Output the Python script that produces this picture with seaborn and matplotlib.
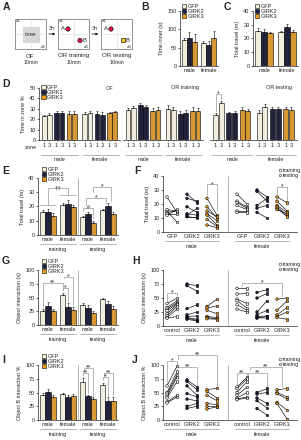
import matplotlib
matplotlib.use('Agg')
import matplotlib.pyplot as plt
import seaborn as sns
import pandas as pd
import numpy as np
from matplotlib.patches import Rectangle, Circle, Patch
from matplotlib.lines import Line2D

# ---------------- data ----------------
groups = ['GFP', 'GIRK2', 'GIRK3']
sexes = ['male', 'female']

# B: time in inner zone (s); rows male, female; cols GFP, GIRK2, GIRK3
inner_time = [[70, 77, 66], [62, 57, 77]]
inner_sem = [[6, 15, 20], [7, 10, 18]]

# C: total travel in OF (m)
of_travel = [[25.5, 25, 24], [24.5, 28.5, 24.5]]
of_travel_sem = [[2, 2, 1], [1, 2, 1.5]]

# D: time in zone % as (zone 1, zone 3) per sex / group
zone_of = [[[23, 24], [25.5, 25.5], [25, 25]], [[25, 25.5], [25, 24.5], [25.5, 26.5]]]
zone_of_sem = [[[1.5, 2], [2.5, 2.5], [2.5, 3]], [[2, 2.5], [2.5, 2.5], [1.5, 1.5]]]
zone_training = [[[28.5, 30.5], [33.5, 32], [27.5, 28.5]], [[29.5, 29], [25, 26], [27.5, 27.5]]]
zone_training_sem = [[[2, 2], [2, 2], [3, 3]], [[4, 3], [3, 3], [4, 3]]]
zone_testing = [[[24, 36], [25.5, 26], [28.5, 27.5]], [[26, 32], [29.5, 29.5], [29.5, 29]]]
zone_testing_sem = [[[2, 1.5], [1.5, 1.5], [3, 2.5]], [[3, 3], [2, 2], [2, 3]]]

# E: total travel (m) in OR sessions
travel_training = [[16, 16, 13.5], [21, 21.5, 19.5]]
travel_training_sem = [[1.5, 2, 2], [1.5, 3, 1.5]]
travel_testing = [[12.5, 14.5, 8.5], [17.5, 20.5, 14.5]]
travel_testing_sem = [[1, 1.5, 1.5], [1, 2, 1.5]]

# G: object interaction (s)
inter_training = [[26, 34, 26], [54, 32, 28]]
inter_training_sem = [[3, 8, 3], [5, 8, 5]]
inter_testing = [[37, 31, 21], [47, 39, 30]]
inter_testing_sem = [[3, 6, 4], [3, 5, 5]]

# I: object B interaction %
objb_training = [[46, 51, 42], [47, 42, 44]]
objb_training_sem = [[3, 6, 4], [2, 3, 3]]
objb_testing = [[70, 43, 38], [63, 35, 34]]
objb_testing_sem = [[6, 3, 3], [5, 6, 8]]

# F: individual total travel (m), training vs testing
f_train_male = [[25, 15, 14, 13, 12, 16], [27, 24, 18, 13, 11, 11, 12], [24, 18, 13, 12, 9, 5, 15]]
f_test_male = [[14, 7, 15, 13, 16, 15], [21, 22, 14, 12, 10, 11, 17], [12, 10, 8, 5, 4, 3, 11]]
f_train_female = [[27, 22, 21, 19, 15, 14], [30, 29, 19, 17, 14], [25, 22, 19, 18, 17, 16]]
f_test_female = [[20, 18, 17, 16, 15, 14], [25, 22, 24, 19, 10], [21, 15, 14, 12, 11, 13]]

# H: individual object interaction (s)
h_train_male = [[40, 33, 30, 27, 22, 18, 15, 14], [75, 72, 31, 20, 17, 15, 14, 12], [35, 32, 28, 17, 15, 13]]
h_test_male = [[50, 45, 42, 40, 38, 35, 30, 17], [72, 62, 38, 25, 18, 12, 10, 9], [48, 36, 22, 15, 13, 12]]
h_train_female = [[67, 57, 48, 45, 38, 30], [60, 50, 25, 20, 17, 14, 15], [48, 28, 20, 17, 15]]
h_test_female = [[67, 58, 40, 32, 28, 25], [65, 58, 45, 28, 18, 17, 14], [50, 45, 33, 25, 12]]

# J: individual object B interaction %
j_train_male = [[62, 50, 47, 43, 40, 33, 31], [73, 70, 62, 48, 38, 25, 21], [55, 52, 45, 30, 25, 20]]
j_test_male = [[98, 88, 82, 78, 70, 45, 42], [60, 55, 45, 42, 35, 30, 25], [58, 40, 35, 28, 25, 24]]
j_train_female = [[60, 57, 50, 45, 40, 38, 37], [50, 47, 40, 35, 21], [55, 50, 48, 32, 30]]
j_test_female = [[78, 75, 70, 60, 50, 42, 40], [57, 50, 30, 22, 9], [57, 42, 38, 18, 2]]

# ---------------- style ----------------
FS = 4.0
sns.set_style('ticks')
plt.rcParams['font.family'] = ['Liberation Sans', 'DejaVu Sans']
plt.rcParams.update({
    'font.size': FS, 'axes.linewidth': 0.5, 'axes.labelsize': FS,
    'xtick.labelsize': FS, 'ytick.labelsize': FS,
    'xtick.major.width': 0.5, 'ytick.major.width': 0.5,
    'xtick.major.size': 1.5, 'ytick.major.size': 1.5,
    'xtick.major.pad': 1, 'ytick.major.pad': 1, 'axes.labelpad': 2,
})
colors = {'GFP': '#f4f1da', 'GIRK2': '#1c2040', 'GIRK3': '#f29d17'}
pcolors = {'GFP': '#ffffff', 'GIRK2': '#1c2040', 'GIRK3': '#f29d17'}
GRAY = '0.6'

W, H = 301, 440
fig = plt.figure(figsize=(W / 100, H / 100), dpi=100)


def px_axes(x0, y0, x1, y1):
    return fig.add_axes([x0 / W, 1 - y1 / H, (x1 - x0) / W, (y1 - y0) / H])


def letter(x, y, s):
    fig.text(x / W, 1 - y / H, s, fontsize=7.5, fontweight='bold', va='top', ha='left')


def bar_legend(ax, anchor):
    handles = [Patch(facecolor=colors[g], edgecolor='k', linewidth=0.4, label=g) for g in groups]
    ax.legend(handles=handles, loc='upper left', bbox_to_anchor=anchor, frameon=False,
              handlelength=0.75, handleheight=0.75, handletextpad=0.25, labelspacing=0.0,
              borderpad=0, borderaxespad=0, fontsize=FS)


def pair_legend(ax):
    handles = [Line2D([], [], marker='o', ls='', mfc='white', mec='0.35', mew=0.5, ms=2.0, label='training'),
               Line2D([], [], marker='s', ls='', mfc='white', mec='0.35', mew=0.5, ms=2.0, label='testing')]
    ax.legend(handles=handles, loc='upper right', bbox_to_anchor=(1.03, 1.15), frameon=False,
              handlelength=0.6, handletextpad=0.25, labelspacing=0.0, borderpad=0, borderaxespad=0,
              fontsize=FS)


def grouped_bars(ax, cats, vals, errs):
    rows = [(c, g, vals[i][j], errs[i][j]) for i, c in enumerate(cats) for j, g in enumerate(groups)]
    df = pd.DataFrame(rows, columns=['cat', 'group', 'value', 'err'])
    sns.barplot(data=df, x='cat', y='value', hue='group', order=cats, hue_order=groups,
                palette=colors, edgecolor='k', linewidth=0.4, errorbar=None, legend=False, ax=ax)
    conts = [c for c in ax.containers if isinstance(c, matplotlib.container.BarContainer)]
    for j, cont in enumerate(conts):
        for i, bar in enumerate(cont):
            x = bar.get_x() + bar.get_width() / 2
            ax.errorbar(x, bar.get_height(), yerr=[[0], [errs[i][j]]], fmt='none', ecolor='k',
                        elinewidth=0.4, capsize=0.8, capthick=0.4)


def style(ax, ylim, yticks, ylabel):
    ax.set_ylim(*ylim)
    ax.set_yticks(yticks)
    ax.set_ylabel(ylabel)
    ax.set_xlabel('')
    sns.despine(ax=ax)
    ax.tick_params(axis='x', length=0, pad=1.5)


def under(ax, x0, x1, text, yl=-0.16, yt=-0.255):
    tr = ax.get_xaxis_transform()
    ax.plot([x0, x1], [yl, yl], color=GRAY, lw=0.5, transform=tr, clip_on=False)
    ax.text((x0 + x1) / 2, yt, text, transform=tr, ha='center', va='center', fontsize=FS)


def bracket(ax, x1, x2, y, text, y1=None, y2=None, fs=5):
    y1 = y if y1 is None else y1
    y2 = y if y2 is None else y2
    ax.plot([x1, x1, x2, x2], [y1, y, y, y2], color=GRAY, lw=0.5, clip_on=False)
    ax.text((x1 + x2) / 2, y, text, ha='center', va='center', fontsize=fs, clip_on=False,
            bbox=dict(fc='none', ec='none', pad=0))


def paired(ax, tr_m, te_m, tr_f, te_f):
    rows = []
    for si, (tr, te) in enumerate([(tr_m, te_m), (tr_f, te_f)]):
        for gi, g in enumerate(groups):
            base = si * 3.5 + gi
            for k, (a, b) in enumerate(zip(tr[gi], te[gi])):
                subj = f'{si}-{gi}-{k}'
                rows.append((subj, g, 'training', base - 0.25, a))
                rows.append((subj, g, 'testing', base + 0.25, b))
    df = pd.DataFrame(rows, columns=['subj', 'group', 'session', 'x', 'value'])
    sns.lineplot(data=df, x='x', y='value', units='subj', estimator=None, color='k',
                 lw=0.45, legend=False, ax=ax)
    sns.scatterplot(data=df, x='x', y='value', hue='group', style='session', hue_order=groups,
                    markers={'training': 'o', 'testing': 's'}, palette=pcolors, edgecolor='k',
                    linewidth=0.4, s=3.5, legend=False, ax=ax, zorder=3)
    ax.set_xlim(-0.45, 6.25)
    ax.axvline(2.8, color=GRAY, lw=0.5)


def paired_labels(ax, names):
    ax.set_xticks([0, 1, 2, 3.5, 4.5, 5.5])
    ax.set_xticklabels(names * 2)
    under(ax, -0.35, 2.35, 'male')
    under(ax, 3.15, 5.85, 'female')
    pair_legend(ax)


def session_bars(ax, tr, tr_e, te, te_e):
    grouped_bars(ax, ['tr_m', 'tr_f', 'te_m', 'te_f'], tr + te, tr_e + te_e)
    ax.set_xlim(-0.5, 3.5)
    ax.axvline(1.5, color=GRAY, lw=0.5)
    ax.set_xticks(range(4))
    ax.set_xticklabels(['male', 'female', 'male', 'female'])
    under(ax, -0.4, 1.4, 'training')
    under(ax, 1.6, 3.4, 'testing')


# ---------------- A: schematic ----------------
axA = px_axes(0, 0, 140, 70)
axA.set_xlim(0, 140)
axA.set_ylim(70, 0)
axA.axis('off')
for x0, name in [(15, 'OF'), (58, 'OR training'), (101, 'OR testing')]:
    axA.plot([x0 + 15.5] * 2, [19, 49], color='0.85', lw=0.4)
    axA.plot([x0, x0 + 31], [34, 34], color='0.85', lw=0.4)
    axA.add_patch(Rectangle((x0, 19), 31, 30, fill=False, ec='0.5', lw=0.6))
    axA.text(x0 + 1, 19.5, 'z1', fontsize=3.2, va='top', ha='left')
    axA.text(x0 + 30.5, 48.8, 'z3', fontsize=3.2, va='bottom', ha='right')
    axA.text(x0 + 15.5, 56, name, ha='center', va='center', fontsize=4.5)
    axA.text(x0 + 15.5, 63, '10min', ha='center', va='center', fontsize=3.8)
axA.add_patch(Rectangle((22.5, 27), 16, 15, fc='#d8d8d8', ec='#c4c4c4', lw=0.4))
axA.text(30.5, 34.5, 'inner', ha='center', va='center', fontsize=3.8)
for xa in (46, 89):
    axA.annotate('', xy=(xa + 12, 34), xytext=(xa, 34),
                 arrowprops=dict(arrowstyle='-|>', lw=0.5, color='k', mutation_scale=3))
    axA.text(xa + 6, 31.5, '3h', ha='center', va='bottom', fontsize=3.8)
axA.add_patch(Circle((68, 29), 2.2, fc='#e3164a', ec='k', lw=0.4))
axA.text(65.2, 29, 'A', ha='right', va='center', fontsize=4.2)
axA.add_patch(Circle((80, 40.5), 2.2, fc='#e3164a', ec='k', lw=0.4))
axA.text(82.6, 40.5, 'B', ha='left', va='center', fontsize=4.2)
axA.add_patch(Circle((111, 29), 2.2, fc='#e3164a', ec='k', lw=0.4))
axA.text(108.2, 29, 'A', ha='right', va='center', fontsize=4.2)
axA.add_patch(Rectangle((120.5, 38.5), 4, 4, fc='#f6c419', ec='k', lw=0.4))
axA.text(125.5, 40.5, 'B', ha='left', va='center', fontsize=4.2)

# ---------------- B and C ----------------
axB = px_axes(180, 11, 218, 66)
grouped_bars(axB, sexes, inner_time, inner_sem)
style(axB, (0, 150), [0, 50, 100, 150], 'Time inner (s)')
bar_legend(axB, (0.05, 1.12))

axC = px_axes(253, 11, 298, 66)
grouped_bars(axC, sexes, of_travel, of_travel_sem)
style(axC, (0, 40), [0, 10, 20, 30, 40], 'Total travel (m)')
bar_legend(axC, (0.05, 1.12))

# ---------------- D ----------------
d_boxes = [(39, 120), (123, 203), (210, 297)]
d_sets = [(zone_of, zone_of_sem, 'OF', 0.87), (zone_training, zone_training_sem, 'OR training', 0.78),
          (zone_testing, zone_testing_sem, 'OR testing', 0.79)]
d_axes = []
for k, ((x0, x1), (vals, sems, title, tx)) in enumerate(zip(d_boxes, d_sets)):
    ax = px_axes(x0, 88, x1, 140)
    rows = []
    for si, s in enumerate(sexes):
        for gi, g in enumerate(groups):
            for zi in range(2):
                rows.append((s, g, si * 7.8 + gi * 2.4 + zi, vals[si][gi][zi], sems[si][gi][zi]))
    df = pd.DataFrame(rows, columns=['sex', 'group', 'pos', 'value', 'err'])
    sns.barplot(data=df, x='pos', y='value', hue='group', hue_order=groups, palette=colors,
                native_scale=True, dodge=False, width=0.9, edgecolor='k', linewidth=0.4,
                errorbar=None, legend=False, ax=ax)
    ax.errorbar(df['pos'], df['value'], yerr=[np.zeros(len(df)), df['err']], fmt='none',
                ecolor='k', elinewidth=0.4, capsize=0.8, capthick=0.4)
    ax.set_xlim(-1.0, 14.6)
    ax.set_ylim(0, 50)
    ax.set_xticks(df['pos'])
    ax.set_xticklabels(['1', '3'] * 6)
    ax.tick_params(axis='x', length=1, pad=1.5)
    ax.set_xlabel('')
    sns.despine(ax=ax)
    if k == 0:
        ax.set_yticks([0, 10, 20, 30, 40, 50])
        ax.set_ylabel('Time in zone %')
        ax.text(-0.03, -0.135, 'zone', transform=ax.transAxes, ha='right', va='center', fontsize=FS)
        bar_legend(ax, (0.03, 1.05))
    else:
        ax.set_ylabel('')
        ax.spines['left'].set_visible(False)
        ax.tick_params(axis='y', left=False, labelleft=False)
    ax.text(tx, 1.0, title, transform=ax.transAxes, ha='center', va='center', fontsize=FS)
    under(ax, -0.6, 6.6, 'male', yl=-0.29, yt=-0.37)
    under(ax, 7.2, 14.4, 'female', yl=-0.29, yt=-0.37)
    d_axes.append(ax)
bracket(d_axes[2], 0, 1, 44, '*', y1=28, y2=39)

# ---------------- E ----------------
axE = px_axes(38, 178, 118, 235)
session_bars(axE, travel_training, travel_training_sem, travel_testing, travel_testing_sem)
style(axE, (0, 40), [0, 10, 20, 30, 40], 'Total travel (m)')
axE.plot([-0.4, 0.4], [21, 21], color=GRAY, lw=0.5)
axE.plot([0.6, 1.4], [28, 28], color=GRAY, lw=0.5)
bracket(axE, 0, 1, 33, '\u2020\u2020', y1=21, y2=28, fs=4.5)
bracket(axE, 1.733, 2.267, 19, '#', y1=17, y2=12, fs=4)
bracket(axE, 1.9, 2.9, 26, '*', y1=20, y2=22)
bracket(axE, 2.27, 3.15, 34, '*', y1=30, y2=24)
bar_legend(axE, (0.05, 1.2))

# ---------------- F ----------------
axF = px_axes(163, 176, 297, 232)
paired(axF, f_train_male, f_test_male, f_train_female, f_test_female)
style(axF, (0, 40), [0, 10, 20, 30, 40], 'Total travel (m)')
paired_labels(axF, groups)
bracket(axF, 1.75, 2.25, 34, '*', y1=26, y2=15)
bracket(axF, 5.25, 5.75, 32, '*', y1=27, y2=23)

# ---------------- G ----------------
axG = px_axes(38, 270, 118, 325)
session_bars(axG, inter_training, inter_training_sem, inter_testing, inter_testing_sem)
style(axG, (0, 100), [0, 25, 50, 75, 100], 'Object interaction (s)')
bracket(axG, -0.267, 0.733, 76, '**', y1=33, y2=63)
bracket(axG, 0.733, 1.0, 67, '*', y1=64, y2=44)
bracket(axG, 0.8, 1.267, 88, '*', y1=85, y2=36)
bar_legend(axG, (0.05, 1.2))

# ---------------- H ----------------
axH = px_axes(163, 270, 297, 326)
paired(axH, h_train_male, h_test_male, h_train_female, h_test_female)
style(axH, (0, 100), [0, 25, 50, 75, 100], 'Object interaction (s)')
paired_labels(axH, ['control', 'GIRK2', 'GIRK3'])
bracket(axH, -0.25, 0.25, 59, '*', y1=45, y2=53)
bracket(axH, 3.5, 5.5, 77, '*', y1=71, y2=53)

# ---------------- I ----------------
axI = px_axes(38, 365, 118, 420)
session_bars(axI, objb_training, objb_training_sem, objb_testing, objb_testing_sem)
style(axI, (0, 100), [0, 25, 50, 75, 100], 'Object B interaction %')
bracket(axI, 1.733, 2.0, 85, '**', y1=80, y2=49)
bracket(axI, 1.8, 2.267, 95, '**', y1=89, y2=44)
bracket(axI, 2.733, 3.0, 78, '*', y1=72, y2=44)
bracket(axI, 2.8, 3.267, 86, '**', y1=80, y2=45)
bar_legend(axI, (0.05, 1.2))

# ---------------- J ----------------
axJ = px_axes(163, 365, 297, 420)
paired(axJ, j_train_male, j_test_male, j_train_female, j_test_female)
style(axJ, (0, 100), [0, 25, 50, 75, 100], 'Object B interaction %')
paired_labels(axJ, ['control', 'GIRK2', 'GIRK3'])
bracket(axJ, -0.25, 0.25, 108, '*', y1=66, y2=100)
bracket(axJ, 0.3, 1.25, 96, '**', y1=100, y2=62)
bracket(axJ, 0.3, 2.25, 118, '**', y1=111, y2=62)
bracket(axJ, 3.25, 3.75, 86, '**', y1=63, y2=80)
bracket(axJ, 3.8, 4.75, 86, '**', y1=80, y2=60)
bracket(axJ, 3.9, 5.5, 97, '**', y1=91, y2=60)

# ---------------- panel letters ----------------
for x, y, s in [(3, 2, 'A'), (141, 2, 'B'), (224, 2, 'C'), (2, 79, 'D'), (2, 166, 'E'),
                (134, 166, 'F'), (2, 256, 'G'), (132, 256, 'H'), (2, 355, 'I'), (132, 355, 'J')]:
    letter(x, y, s)

fig.savefig('out.png', dpi=100)
